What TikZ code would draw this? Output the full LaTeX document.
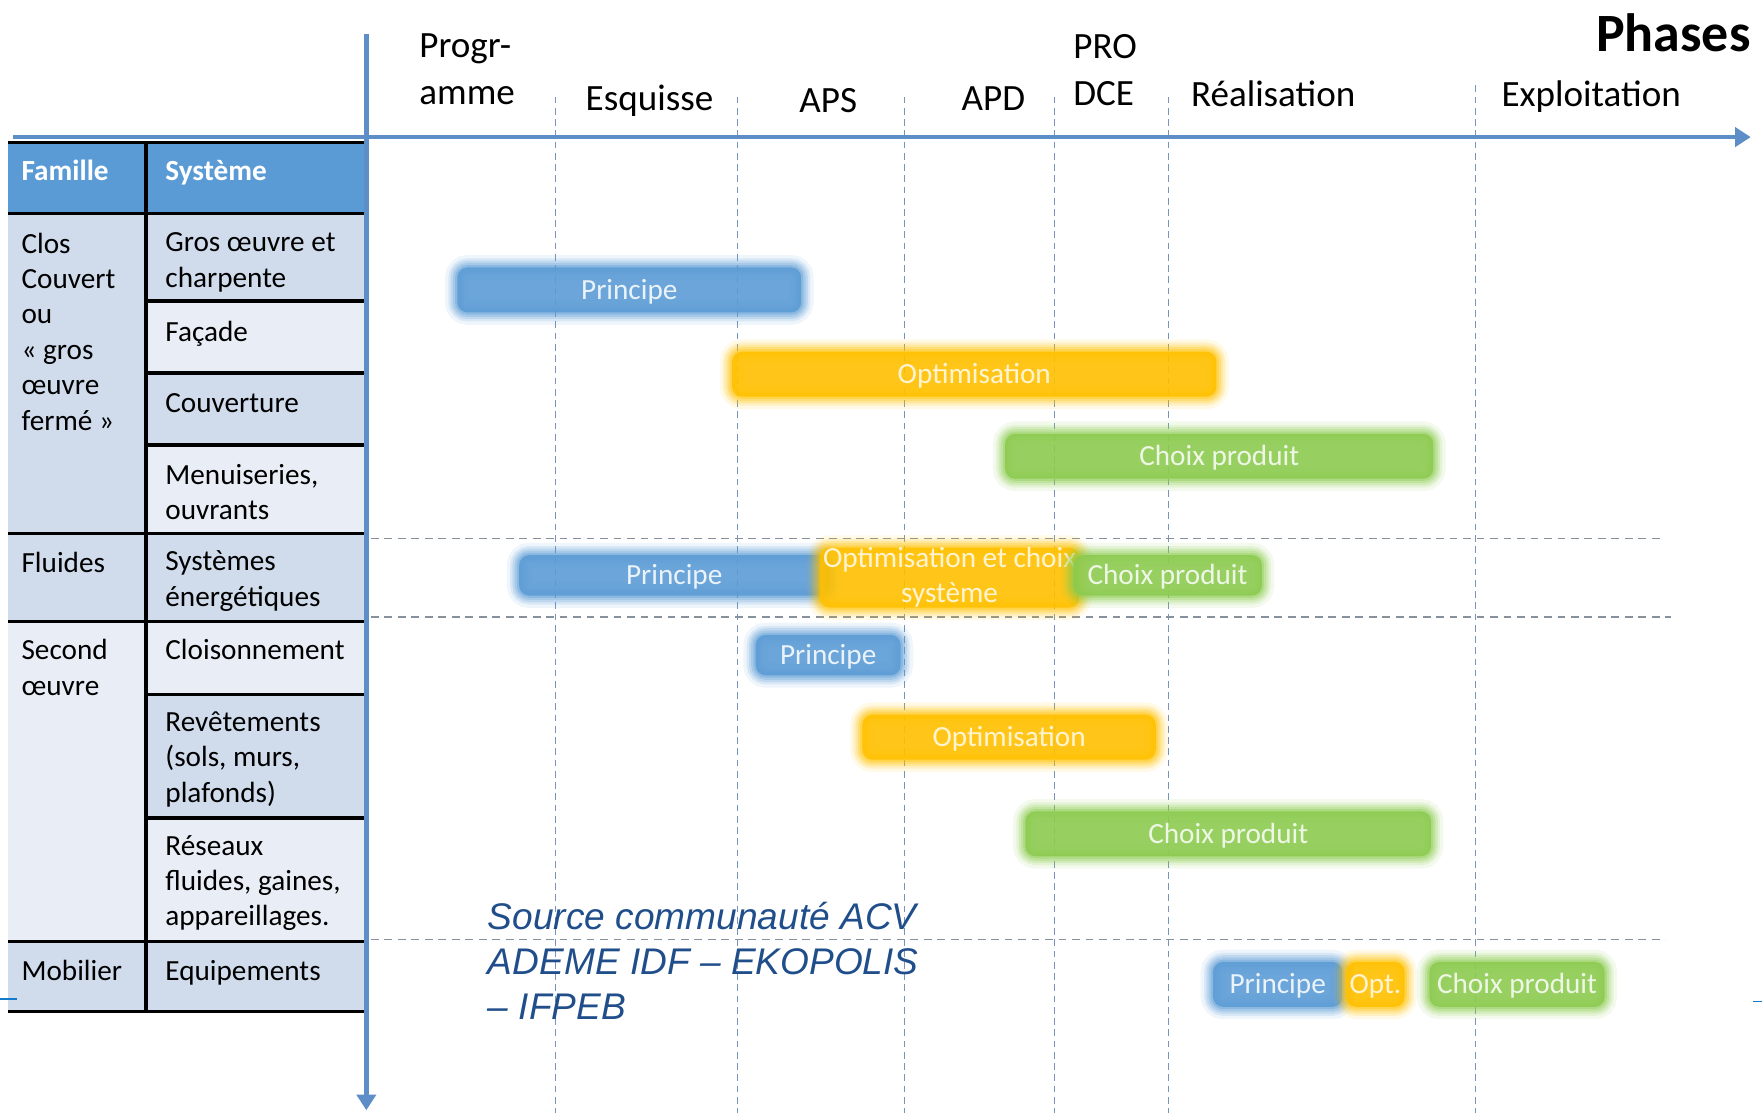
\documentclass[tikz,border=0pt]{standalone}
\usepackage{fontspec}
\setmainfont{Carlito}
\newfontfamily\srcfont{Liberation Sans}
\usepackage{tikz}
\usetikzlibrary{arrows.meta}

\definecolor{axisblue}{RGB}{94,142,199}
\definecolor{headblue}{RGB}{91,155,213}
\definecolor{celldark}{RGB}{208,220,236}
\definecolor{celllight}{RGB}{233,238,246}
\definecolor{barblue}{RGB}{91,155,213}
\definecolor{baryellow}{RGB}{255,192,0}
\definecolor{bargreen}{RGB}{140,203,80}
\definecolor{sepline}{RGB}{120,148,185}
\definecolor{rowline}{RGB}{135,145,155}
\definecolor{srcblue}{RGB}{32,78,138}

\begin{document}
\begin{tikzpicture}[
		x=1pt, y=-1pt,
		axis/.style={draw=axisblue, line width=4pt, -{Triangle[length=14pt,width=17pt]}},
		phasesep/.style={draw=sepline, line width=1pt, dash pattern=on 6pt off 4pt},
		rowsep/.style={draw=rowline, line width=1.2pt, dash pattern=on 7pt off 5pt},
		tabline/.style={draw=black, line width=3pt},
		tabtext/.style={anchor=north west, inner sep=0pt, align=left, font=\fontsize{26}{31.5}\selectfont, execute at begin node=\strut},
		headtext/.style={anchor=base west, inner sep=0pt, text=white, font=\fontsize{26}{31.5}\selectfont\bfseries},
		phaselabel/.style={inner sep=0pt, font=\fontsize{33}{42}\selectfont},
		phasebar/.style={rounded corners=9pt, inner sep=0pt, minimum height=40pt, font=\fontsize{26}{31}\selectfont,
			text height=17pt, text depth=0pt,
			fill=#1, fill opacity=.9, text opacity=1,
			preaction={draw=#1, draw opacity=.1, line width=22pt},
			preaction={draw=#1, draw opacity=.15, line width=16pt},
			preaction={draw=#1, draw opacity=.2, line width=12pt},
			preaction={draw=#1, draw opacity=.25, line width=8pt},
			preaction={draw=#1, draw opacity=.35, line width=4pt}},
		bluebar/.style={phasebar=barblue, text=barblue!12},
		yellowbar/.style={phasebar=baryellow, text=baryellow!18},
		greenbar/.style={phasebar=bargreen, text=bargreen!15}
	]
  \useasboundingbox (0,0) rectangle (1568,990);

  \foreach \x in {494,656,805,938,1040}
    \draw[phasesep] (\x,86) -- (\x,990);
  \draw[phasesep] (1313,76) -- (1313,990);
  \draw[rowsep] (330,479) -- (1480,479);
  \draw[rowsep] (330,549) -- (1487,549);
  \draw[rowsep] (330,836) -- (1482,836);

  \node (b_princ1) [bluebar, minimum width=306pt] at (560,258) {Principe};
  \node (b_optim1) [yellowbar, minimum width=431pt] at (867,333) {Optimisation};
  \node (b_choix1) [greenbar, minimum width=381pt] at (1085,406) {Choix produit};
  \node (b_princ2) [bluebar, minimum width=276pt, minimum height=36pt] at (600,512) {Principe};
  \node (b_optim2) [yellowbar, minimum width=231pt, minimum height=50pt, text height=, text depth=, align=center] at (845,514) {Optimisation et choix\\système};
  \node (b_choix2) [greenbar, minimum width=168pt, minimum height=36pt] at (1039,512) {Choix produit};
  \node (b_princ3) [bluebar, minimum width=129pt, minimum height=36pt] at (737,583) {Principe};
  \node (b_optim3) [yellowbar, minimum width=261pt] at (898,656) {Optimisation};
  \node (b_choix3) [greenbar, minimum width=361pt] at (1093,742) {Choix produit};
  \node (b_princ4) [bluebar, minimum width=115pt] at (1137,876) {Principe};
  \node (b_optim4) [yellowbar, minimum width=52pt] at (1224,876) {Opt.};
  \node (b_choix4) [greenbar, minimum width=156pt] at (1350,876) {Choix produit};

  \fill[headblue] (7,127) rectangle (324,190);
  \fill[celldark] (7,190) rectangle (130,475);
  \fill[celldark] (7,475) rectangle (130,553);
  \fill[celllight] (7,553) rectangle (130,838);
  \fill[celldark] (7,838) rectangle (130,900);
  \fill[celldark] (130,190) rectangle (324,268);
  \fill[celllight] (130,268) rectangle (324,332);
  \fill[celldark] (130,332) rectangle (324,396);
  \fill[celllight] (130,396) rectangle (324,475);
  \fill[celldark] (130,475) rectangle (324,553);
  \fill[celllight] (130,553) rectangle (324,618);
  \fill[celldark] (130,618) rectangle (324,728);
  \fill[celllight] (130,728) rectangle (324,838);
  \fill[celldark] (130,838) rectangle (324,900);

  \foreach \y in {127,190,475,553,838,900}
    \draw[tabline] (7,\y) -- (324,\y);
  \foreach \y in {268,332,396,618,728}
    \draw[tabline] (130,\y) -- (324,\y);
  \draw[tabline] (130,127) -- (130,900);

  \node (h_fam) [headtext] at (19,161) {Famille};
  \node (h_sys) [headtext] at (147,161) {Système};
  \node (f_clos) [tabtext] at (19,207) {Clos\\Couvert\\ou\\« gros\\œuvre\\fermé »};
  \node (f_flu) [tabtext] at (19,487) {Fluides};
  \node (f_sec) [tabtext] at (19,569) {Second\\œuvre};
  \node (f_mob) [tabtext] at (19,850) {Mobilier};
  \node (s_gros) [tabtext] at (147,207) {Gros œuvre et\\charpente};
  \node (s_fac) [tabtext] at (147,282) {Façade};
  \node (s_couv) [tabtext] at (147,345) {Couverture};
  \node (s_menu) [tabtext] at (147,413) {Menuiseries,\\ouvrants};
  \node (s_ener) [tabtext] at (147,490) {Systèmes\\énergétiques};
  \node (s_clois) [tabtext] at (147,565) {Cloisonnement};
  \node (s_revet) [tabtext] at (147,633) {Revêtements\\(sols, murs,\\plafonds)};
  \node (s_res) [tabtext] at (147,743) {Réseaux\\fluides, gaines,\\appareillages.};
  \node (s_equip) [tabtext] at (147,850) {Equipements};

  \coordinate (t_start) at (12,122);
  \coordinate (t_end) at (1558,122);
  \coordinate (v_start) at (326,30);
  \coordinate (v_end) at (326,988);
  \draw[axis] (t_start) -- (t_end);
  \draw[axis] (v_start) -- (v_end);

  \coordinate (l_frag) at (0,889);
  \coordinate (l_frag_end) at (15,889);
  \coordinate (r_frag) at (1560,891);
  \coordinate (r_frag_end) at (1568,891);
  \draw[cyan!60!blue, line width=1.2pt] (l_frag) -- (l_frag_end);
  \draw[cyan!60!blue, line width=1.2pt] (r_frag) -- (r_frag_end);

  \node (p_prog) [phaselabel, anchor=north west, align=left, execute at begin node=\strut] at (373,29.5) {Progr-\\amme};
  \node (p_esq) [phaselabel, anchor=base] at (578,98) {Esquisse};
  \node (p_aps) [phaselabel, anchor=base] at (737,100) {APS};
  \node (p_apd) [phaselabel, anchor=base] at (884,98) {APD};
  \node (p_pro) [phaselabel, anchor=north west, align=left, execute at begin node=\strut] at (955,30.5) {PRO\\DCE};
  \node (p_real) [phaselabel, anchor=base] at (1133,95) {Réalisation};
  \node (p_expl) [phaselabel, anchor=base] at (1416,95) {Exploitation};
  \node (phases) [inner sep=0pt, anchor=base east, font=\fontsize{48}{56}\selectfont\bfseries] at (1558,46) {Phases};

  \node (source) [anchor=north west, inner sep=0pt, align=left, text=srcblue, font=\srcfont\itshape\fontsize{33}{40}\selectfont, execute at begin node=\strut] at (434,803) {Source communauté ACV\\ADEME IDF – EKOPOLIS\\– IFPEB};
\end{tikzpicture}
\end{document}
